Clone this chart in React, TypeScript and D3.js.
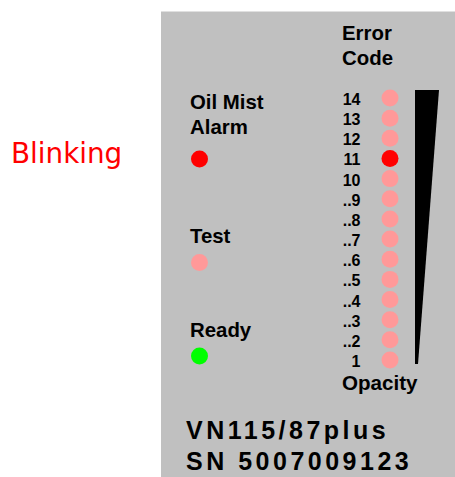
import React from "react";
import * as d3 from "d3";

const codeValues = [14, 13, 12, 11, 10, 9, 8, 7, 6, 5, 4, 3, 2, 1];
const codeLabels = ["14", "13", "12", "11", "10", "..9", "..8", "..7", "..6", "..5", "..4", "..3", "..2", "1"];
const activeCode = 11;

const indicatorNames = [["Oil Mist", "Alarm"], ["Test"], ["Ready"]];
const indicatorStates = ["blink", "off", "on"];

const modelLines = ["VN115/87plus", "SN 5007009123"];

const W = 455;
const H = 477;
const COL_ON = "#ff0000";
const COL_OFF = "#ff9999";
const COL_GREEN = "#00ff00";
const PANEL = "#c0c0c0";
const FONT = "'Liberation Sans', Arial, Helvetica, sans-serif";

export default function App() {
  const y = d3.scaleLinear().domain([14, 1]).range([98, 360]);
  const dotX = 390;
  const labelX = 360.5;
  const r = 8.5;

  const wedgeTop = y(14) - 8;
  const wedgeBottom = y(1) + 4;
  const wedgePts: [number, number][] = [
    [415, wedgeTop],
    [439, wedgeTop],
    [418, wedgeBottom],
    [415, wedgeBottom],
  ];
  const wedgePath = d3.line()(wedgePts) + "Z";

  const indicatorY = [159, 262.5, 356];
  const titleBase = [[109, 134], [242.5], [336.5]];
  const stateColor = (s: string) => (s === "blink" ? COL_ON : s === "on" ? COL_GREEN : COL_OFF);

  return (
    <svg width={W} height={H} style={{ position: "absolute", left: 0, top: 0 }}>
      <rect x={161} y={11} width={W - 161} height={H - 11} fill={PANEL} />
      <line x1={161} x2={W} y1={11.5} y2={11.5} stroke="#e0e0e0" strokeWidth={1} />

      <text x={11} y={163} fontFamily="'DejaVu Sans', Verdana, sans-serif" fontSize={27.8} fill="#ff0000">
        Blinking
      </text>

      <g fontFamily={FONT} fontWeight="bold" fill="#000">
        <text x={342} y={40} fontSize={20.4}>Error</text>
        <text x={342} y={64.5} fontSize={20.4}>Code</text>

        {indicatorNames.map((lines, i) => (
          <g key={i}>
            {lines.map((t, j) => (
              <text key={j} x={190} y={titleBase[i][j]} fontSize={20.4}>{t}</text>
            ))}
            <circle cx={199.5} cy={indicatorY[i]} r={r} fill={stateColor(indicatorStates[i])} />
          </g>
        ))}

        {codeValues.map((v, i) => (
          <g key={v}>
            <text x={labelX} y={y(v) + 7} fontSize={16} textAnchor="end">{codeLabels[i]}</text>
            <circle cx={dotX} cy={y(v)} r={r} fill={v === activeCode ? COL_ON : COL_OFF} />
          </g>
        ))}

        <path d={wedgePath} fill="#000" />

        <text x={342} y={390} fontSize={20.6}>Opacity</text>

        {modelLines.map((t, i) => (
          <text key={i} x={186} y={439 + i * 31} fontSize={25} letterSpacing={3.5}>{t}</text>
        ))}
      </g>
    </svg>
  );
}
